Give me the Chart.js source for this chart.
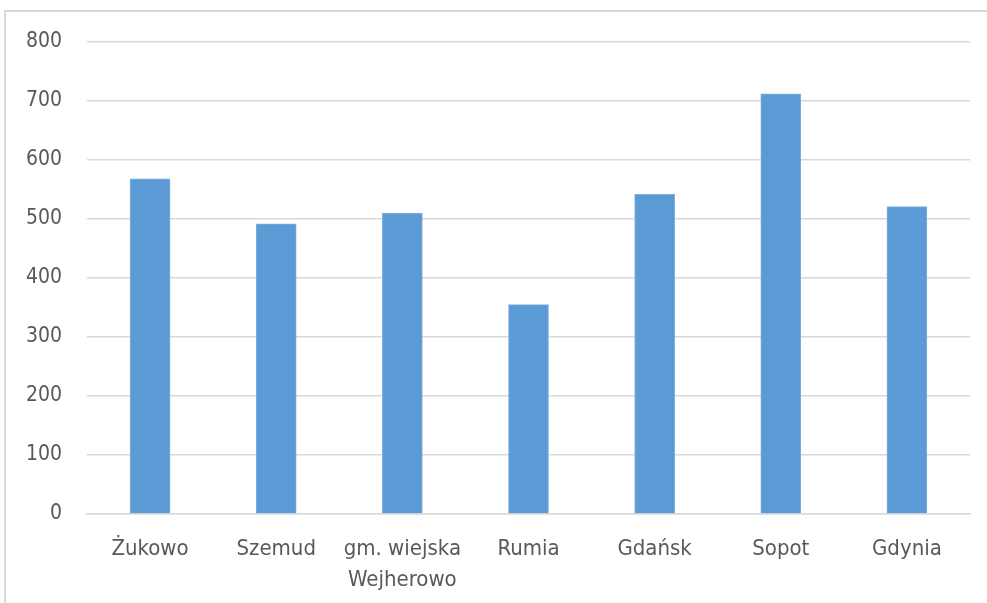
<!DOCTYPE html>
<html>
<head>
<meta charset="utf-8">
<script src="https://cdn.jsdelivr.net/npm/chart.js@4/dist/chart.umd.min.js"></script>
<style>
html,body{margin:0;padding:0;background:#fff;}
#frame{position:absolute;left:4px;top:10px;width:990px;height:600px;border-left:2px solid #d9d9d9;border-top:2px solid #d9d9d9;box-sizing:border-box;}
#wrap{position:absolute;left:0;top:0;width:987px;height:603px;}
</style>
</head>
<body>
<div id="frame"></div>
<div id="wrap"><canvas id="c" width="987" height="603"></canvas></div>
<script>
const categories = ['Żukowo', 'Szemud', ['gm. wiejska', 'Wejherowo'], 'Rumia', 'Gdańsk', 'Sopot', 'Gdynia'];
const values = [568, 492, 510, 355, 542, 712, 521];
const yTicks = [0, 100, 200, 300, 400, 500, 600, 700, 800];

const FONT = "'DejaVu Sans Condensed', 'Open Sans', sans-serif";

new Chart(document.getElementById('c'), {
  type: 'bar',
  data: {
    labels: categories,
    datasets: [{
      data: values,
      backgroundColor: '#5b9bd5',
      borderColor: '#7fb0de',
      borderWidth: 1,
      barThickness: 40
    }]
  },
  options: {
    responsive: false,
    animation: false,
    layout: { padding: { left: 0, top: 42, right: 17, bottom: 0 } },
    plugins: { legend: { display: false }, tooltip: { enabled: false } },
    scales: {
      x: {
        grid: { display: false, drawTicks: false },
        border: { display: true, color: '#d9d9d9', width: 1.5 },
        ticks: { color: '#595959', font: { family: FONT, size: 22, lineHeight: 1.4 }, padding: 20, maxRotation: 0, autoSkip: false },
        afterFit: (s) => { s.height = 603 - 514; }
      },
      y: {
        min: 0, max: 800,
        afterBuildTicks: (s) => { s.ticks = yTicks.map(v => ({ value: v })); },
        grid: { color: '#d9d9d9', lineWidth: 1.5, drawTicks: false },
        border: { display: false },
        ticks: { color: '#595959', font: { family: FONT, size: 21 }, padding: 25 },
        afterFit: (s) => { s.width = 87; }
      }
    }
  }
});
</script>
</body>
</html>
